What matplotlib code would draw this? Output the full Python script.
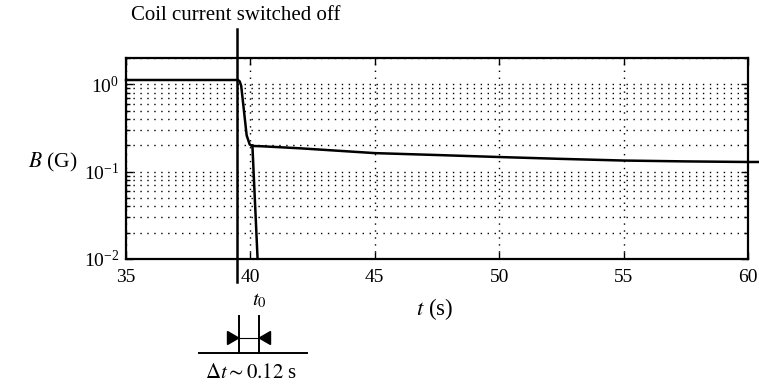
import numpy as np
import matplotlib
matplotlib.use("Agg")
import matplotlib.pyplot as plt
from matplotlib.ticker import LogLocator, NullFormatter
from matplotlib.patches import Polygon

plt.rcParams['font.family'] = ['Liberation Serif', 'DejaVu Serif']
plt.rcParams['mathtext.fontset'] = 'stix'

# Datos: campo B (G) frente al tiempo t (s)
t_campo = [35, 39.5, 39.57, 39.63, 39.85, 39.97, 40.05, 40.5, 42, 45, 47.5, 50, 52.5, 55, 57.5, 60, 60.45]
b_campo = [1.12, 1.12, 1.08, 0.96, 0.26, 0.205, 0.197, 0.195, 0.185, 0.163, 0.155, 0.147, 0.140, 0.134, 0.131, 0.129, 0.129]

# caida rapida de la bobina (sigue por debajo de 10^-2)
t_bobina = [40.08, 40.30]
b_bobina = [0.20, 0.0085]

t_apagado = 39.47  # corriente de la bobina apagada
xticks = [35, 40, 45, 50, 55, 60]

W, H = 759, 386
fig = plt.figure(figsize=(W / 100, H / 100), dpi=100)
ax = fig.add_axes([126 / W, 1 - 259 / H, (748 - 126) / W, (259 - 58) / H])

def px(x, y):
    # pixeles de la imagen -> fraccion de figura
    return x / W, 1 - y / H

ax.set_yscale('log')
ax.set_xlim(35, 60)
ax.set_ylim(0.01, 2)
ax.set_xticks(xticks)
ax.yaxis.set_major_locator(LogLocator(base=10, numticks=10))
ax.yaxis.set_minor_locator(LogLocator(base=10, subs=np.arange(2, 10), numticks=20))
ax.yaxis.set_minor_formatter(NullFormatter())

grid_style = dict(color='black', linestyle=(0, (1, 4)), linewidth=1.0)
ax.grid(True, which='major', axis='both', **grid_style)
ax.grid(True, which='minor', axis='y', **grid_style)

for s in ax.spines.values():
    s.set_linewidth(1.6)
ax.tick_params(which='both', direction='in', top=True, right=True, labelsize=14, width=1.0)
ax.tick_params(which='major', length=5)
ax.tick_params(axis='x', which='major', pad=7)
ax.tick_params(axis='y', which='major', pad=5)
ax.tick_params(which='minor', length=3)

ax.plot(t_campo, b_campo, color='black', linewidth=1.8, clip_on=False, zorder=5)
ax.plot(t_bobina, b_bobina, color='black', linewidth=1.8, zorder=5)

# linea vertical del apagado (sale fuera de los ejes)
trans = ax.get_xaxis_transform()
ax.plot([t_apagado, t_apagado], [1.144, -0.114], color='black', linewidth=1.8,
        transform=trans, clip_on=False, zorder=6)

fig.text(*px(236, 15), 'Coil current switched off', ha='center', va='center', fontsize=15)
fig.text(*px(53, 162), r'$B$ (G)', ha='center', va='center', fontsize=15.5)
fig.text(*px(435, 309), r'$t$ (s)', ha='center', va='center', fontsize=16.5)
fig.text(*px(259, 301), r'$t_0$', ha='center', va='center', fontsize=15)

# anotacion del intervalo
def linea(x0, y0, x1, y1, lw):
    a, b = px(x0, y0)
    c, d = px(x1, y1)
    fig.add_artist(plt.Line2D([a, c], [b, d], color='black', linewidth=lw))

linea(199, 353, 307, 353, 1.4)
linea(238.7, 316, 238.7, 353, 1.4)
linea(259.3, 316, 259.3, 353, 1.4)
linea(238.7, 338, 259.3, 338, 0.8)
fig.add_artist(Polygon([px(227.5, 331.5), px(227.5, 344.5), px(238.7, 338)],
                       closed=True, color='black', transform=fig.transFigure))
fig.add_artist(Polygon([px(270.5, 331.5), px(270.5, 344.5), px(259.3, 338)],
                       closed=True, color='black', transform=fig.transFigure))
fig.text(*px(251, 374), r'$\Delta t \sim 0.12$ s', ha='center', va='center', fontsize=15)

fig.savefig('out.png', dpi=100)
